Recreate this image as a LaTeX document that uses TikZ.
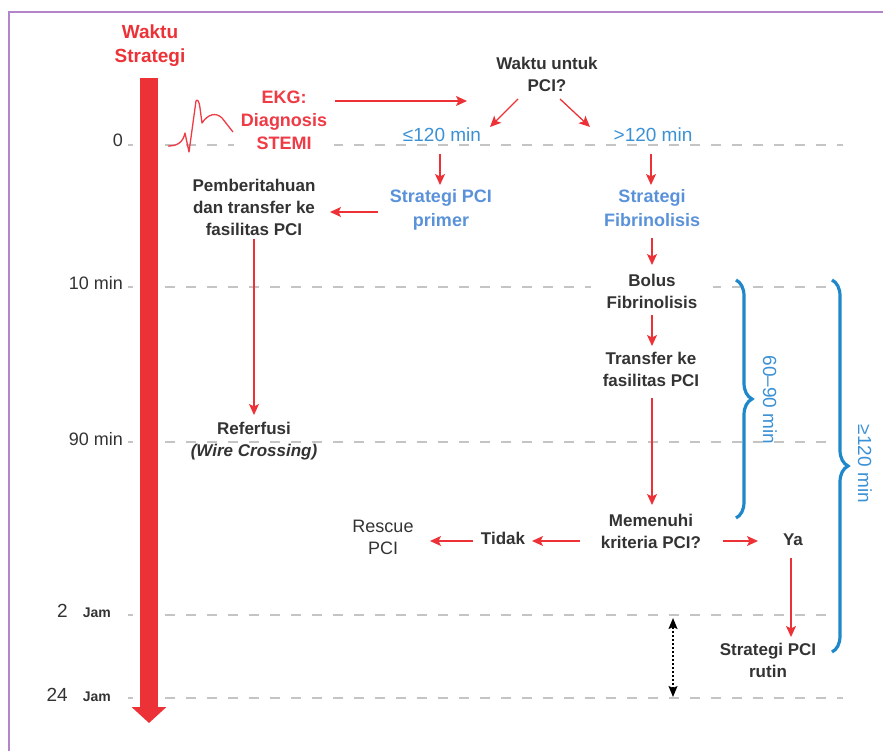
\documentclass[tikz,border=0pt]{standalone}
\usepackage{fontspec}
\setmainfont{Liberation Sans}
\usepackage{xcolor}
\usetikzlibrary{positioning,arrows.meta,calc,decorations.pathreplacing}

\definecolor{axisred}{HTML}{EC3237}
\definecolor{ekgred}{HTML}{EE3B45}
\definecolor{minblue}{HTML}{3B91D5}
\definecolor{stratblue}{HTML}{5A92DA}
\definecolor{braceblue}{HTML}{1E88CB}
\definecolor{txtdark}{HTML}{333333}
\definecolor{gridgray}{HTML}{C4C4C4}
\definecolor{framepurple}{HTML}{B384CC}

\begin{document}
\begin{tikzpicture}[
    x=1pt, y=-1pt,
    every node/.style={align=center, inner sep=0pt},
    lbl/.style={font=\fontsize{17}{22}\selectfont\bfseries, text=txtdark},
    strat/.style={font=\fontsize{18}{24}\selectfont\bfseries, text=stratblue},
    redtxt/.style={font=\fontsize{18}{23}\selectfont\bfseries, text=ekgred},
    minlbl/.style={font=\fontsize{19}{23}\selectfont, text=minblue},
    timelbl/.style={font=\fontsize{18}{22}\selectfont, text=txtdark, anchor=base east},
    grid/.style={gridgray, line width=1.6pt, dash pattern=on 10pt off 11pt},
    flow/.style={axisred, line width=1.3pt, -{Stealth[width=10pt,length=11pt,inset=2.5pt]}},
    dblgap/.style={black, line width=1.4pt, dash pattern=on 2pt off 2pt,
      {Stealth[width=9pt,length=11pt,inset=2pt]}-{Stealth[width=9pt,length=11pt,inset=2pt]}},
    span/.style={braceblue, line width=3.2pt, decorate, decoration={brace, amplitude=16pt}},
  ]
    \useasboundingbox (0,0) rectangle (883,751);

    % frame
    \draw[framepurple, line width=2pt] (9,751) -- (9,12) -- (883,12);

    % time levels
    \foreach \yy/\xe in {145/843, 287/830, 442/830, 615/828, 698/843}{
      \draw[grid] (128,\yy) -- (133,\yy);
      \draw[grid] (165,\yy) -- (\xe,\yy);
    }
    \node[timelbl] (t0)  at (123,147) {0};
    \node[timelbl] (t10) at (123,290) {10 min};
    \node[timelbl] (t90) at (123,445) {90 min};
    \node[timelbl] (t2h) at (111,617) {{\fontsize{19}{22}\selectfont 2}\hspace{15pt}{\fontsize{14}{14}\selectfont\bfseries Jam}};
    \node[timelbl] (t24h) at (111,701) {{\fontsize{19}{22}\selectfont 24}\hspace{15pt}{\fontsize{14}{14}\selectfont\bfseries Jam}};

    % time axis
    \coordinate (axtop) at (149,78);
    \coordinate (axend) at (149,723);
    \draw[axisred, line width=18pt, -{Triangle[width=34pt,length=16pt]}] (axtop) -- (axend);
    \node[redtxt, font=\fontsize{19}{24}\selectfont\bfseries, text=axisred] (ttl) at (150,46) {Waktu\\Strategi};

    % diagnosis and decision
    \node[redtxt, fill=white, inner xsep=7pt] (ekg) at (284,120) {EKG:\\Diagnosis\\STEMI};
    \draw[ekgred, line width=1.3pt, line join=round]
      (168,146) .. controls (178,146) and (183,142) .. (185,133) -- (189,152) -- (196,101)
      .. controls (197,99) and (199,100) .. (200,108) -- (202,123)
      .. controls (208,114) and (216,112) .. (222,118) -- (233,132);
    \node[lbl] (q) at (547,74) {Waktu untuk\\PCI?};
    \node[minlbl] (le) at (442,135) {≤120 min};
    \node[minlbl] (gt) at (653,135) {>120 min};

    % strategies
    \node[strat] (primer) at (441,210) {Strategi PCI\\primer};
    \node[strat] (fib) at (652,208) {Strategi\\Fibrinolisis};
    \node[lbl] (pember) at (254,207) {Pemberitahuan\\dan transfer ke\\fasilitas PCI};
    \node[lbl] (refer) at (254,441) {Referfusi\\\textit{(Wire Crossing)}};
    \node[lbl, fill=white, inner xsep=16pt] (bolus) at (652,291) {Bolus\\Fibrinolisis};
    \node[lbl] (transfer) at (651,369) {Transfer ke\\fasilitas PCI};
    \node[lbl] (crit) at (651,531) {Memenuhi\\kriteria PCI?};
    \node[lbl] (tidak) at (503,538) {Tidak};
    \node[lbl] (ya) at (793,540) {Ya};
    \node[font=\fontsize{18}{22}\selectfont, text=txtdark] (rescue) at (383,537) {Rescue\\PCI};
    \node[lbl] (rutin) at (768,660) {Strategi PCI\\rutin};

    % arrows
    \draw[flow] ($(ekg)+(51,-19)$) -- ($(q)+(-80,27)$);
    \draw[flow] ($(q)+(-29,25)$) -- ($(le)+(48,-8)$);
    \draw[flow] ($(q)+(13,25)$) -- ($(gt)+(-63,-8)$);
    \draw[flow] ($(le)+(-2,19)$) -- ($(primer)+(-1,-25)$);
    \draw[flow] ($(gt)+(-2,19)$) -- ($(fib)+(-1,-23)$);
    \draw[flow] ($(primer)+(-63,2)$) -- ($(pember)+(76,5)$);
    \draw[flow] ($(pember)+(0,32)$) -- ($(refer)+(0,-26)$);
    \draw[flow] ($(fib)+(0,30)$) -- ($(bolus)+(0,-26)$);
    \draw[flow] ($(bolus)+(0,24)$) -- ($(transfer)+(1,-23)$);
    \draw[flow] ($(transfer)+(1,29)$) -- ($(crit)+(1,-26)$);
    \draw[flow] ($(crit)+(-71,10)$) -- ($(tidak)+(29,3)$);
    \draw[flow] ($(tidak)+(-30,3)$) -- ($(rescue)+(47,4)$);
    \draw[flow] ($(crit)+(72,10)$) -- ($(ya)+(-35,1)$);
    \draw[flow] ($(ya)+(-2,18)$) -- ($(rutin)+(23,-23)$);

    % gap between 2 and 24 hours
    \coordinate (gap2) at (673,618);
    \coordinate (gap24) at (673,697);
    \draw[dblgap] (gap2) -- (gap24);

    % time windows
    \draw[span] (736,280) -- (736,518);
    \draw[span] (832,280) -- (832,652);
    \node[minlbl, rotate=-90] (win1) at (770,400) {60--90 min};
    \node[minlbl, rotate=-90] (win2) at (865,464) {≥120 min};
\end{tikzpicture}
\end{document}
